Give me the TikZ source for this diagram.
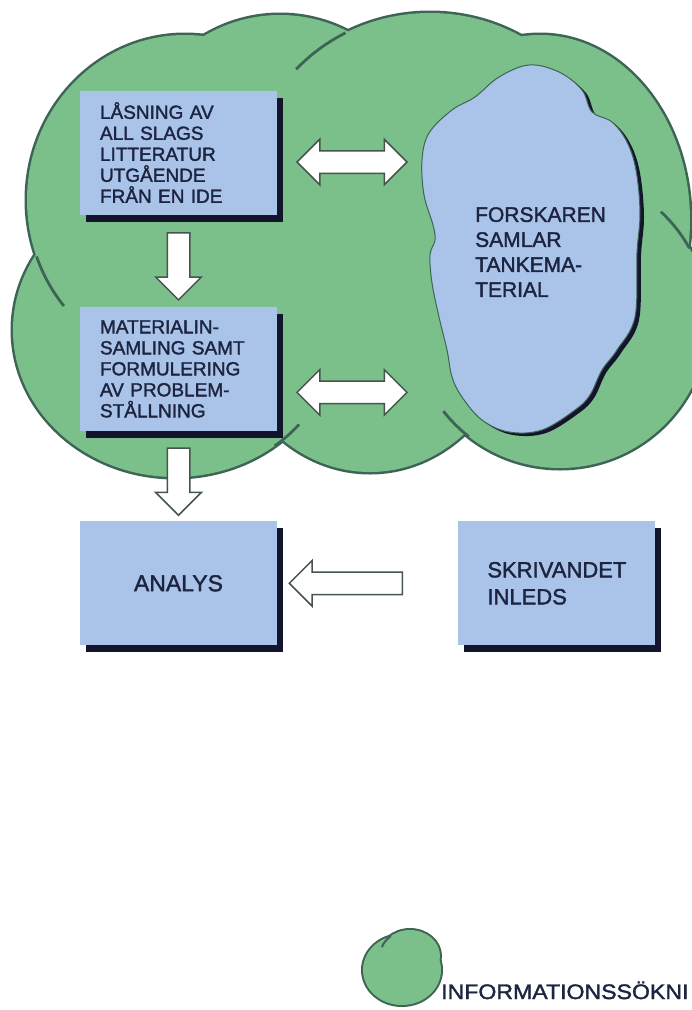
\documentclass[tikz,border=0pt]{standalone}
\usepackage{fontspec}
\setmainfont{Liberation Sans}[FakeBold=1.6]
\newfontfamily\bredfont{Liberation Sans}[FakeBold=1.6, FakeStretch=1.1]
\usepackage{tikz}
\usetikzlibrary{positioning,shadows,shapes.arrows}

\definecolor{molngron}{HTML}{7BC08B}
\definecolor{molnkant}{HTML}{3D6454}
\definecolor{rutbla}{HTML}{AAC3E9}
\definecolor{skugga}{HTML}{14142C}
\definecolor{pilkant}{HTML}{44564C}
\definecolor{textfarg}{HTML}{1C2440}

% lobes of the big cloud: x/y/x radius/y radius
\newcommand{\molnlista}{185/200/158/165, 280/190/160/175, 430/183/180/170, 540/220/150/185, 560/320/148/148, 370/300/150/172, 175/330/162/147}
\newcommand{\blobform}{plot[smooth cycle, tension=0.6] coordinates {(475,97) (499,77) (529,65) (559,72) (582,90) (592,112) (612,122) (627,142) (636,170) (640,213) (637,253) (635,317) (617,350) (602,370) (590,395) (575,410) (542,430) (509,432) (482,420) (462,397) (452,377) (447,350) (439,317) (432,283) (430,255) (435,240) (433,225) (424,195) (422,160) (429,133) (452,110)}}

\begin{document}
\begin{tikzpicture}[x=1pt, y=-1pt, text=textfarg]
	\tikzstyle{block} = [fill=rutbla, minimum width=197pt, minimum height=124pt, drop shadow={shadow xshift=6pt, shadow yshift=-7pt, fill=skugga, opacity=1}]
	\tikzstyle{boxtext} = [font=\fontsize{19}{21}\selectfont, text width=157pt, inner xsep=20pt, align=left]
	\tikzstyle{molnlinje} = [draw=molnkant, line width=2.8pt]
	\tikzstyle{pil} = [draw=pilkant, fill=white, line width=1.5pt, inner xsep=0pt, inner ysep=10.5pt, minimum width=44pt]
	\tikzstyle{nedpil} = [pil, single arrow, single arrow head extend=11.5pt, single arrow head indent=0pt, minimum height=67pt, rotate=-90]
	\tikzstyle{vanpil} = [pil, single arrow, single arrow head extend=11.5pt, single arrow head indent=0pt, minimum height=113pt, rotate=180]
	\tikzstyle{dubbelpil} = [pil, double arrow, double arrow head extend=11.5pt, double arrow head indent=0pt, minimum height=110pt]
	
	\useasboundingbox (0,0) rectangle (692,1010);
	\fill[white] (0,0) rectangle (692,1010);
	\clip (0,0) rectangle (692,1010);
	
	% the green cloud
	\foreach \cx/\cy/\rx/\ry in \molnlista
		\draw[molnlinje, line width=5pt] (\cx,\cy) ellipse [x radius=\rx, y radius=\ry];
	\foreach \cx/\cy/\rx/\ry in \molnlista
		\fill[molngron] (\cx,\cy) ellipse [x radius=\rx, y radius=\ry];
	\draw[molnlinje] (430,183) ++(222:180 and 170) arc[start angle=222, end angle=242, x radius=180, y radius=170];
	\draw[molnlinje] (185,200) ++(160:158 and 165) arc[start angle=160, end angle=140, x radius=158, y radius=165];
	\draw[molnlinje] (175,330) ++(52:162 and 147) arc[start angle=52, end angle=40, x radius=162, y radius=147];
	\draw[molnlinje] (560,320) ++(128:148 and 148) arc[start angle=128, end angle=142, x radius=148, y radius=148];
	\draw[molnlinje] (560,320) ++(-29:148 and 148) arc[start angle=-29, end angle=-47, x radius=148, y radius=148];
	
	% the blue blob
	\fill[skugga, shift={(4,3)}] \blobform;
	\filldraw[fill=rutbla, draw=molnkant, line width=1pt] \blobform;
	\node [minimum width=213pt, minimum height=367pt, inner sep=0pt] (moln) at (533.5,248.5) {};
	\node [anchor=north west, inner sep=0pt, align=left, font=\fontsize{21}{25}\selectfont] (forskaren) at (475,207) {FORSKAREN\\SAMLAR\\TANKEMA-\\TERIAL};
	
	% boxes
	\node [block, boxtext] (lasning) at (178.5,152.5) {LÅSNING AV\\ALL SLAGS\\LITTERATUR\\UTGÅENDE\\FRÅN EN IDE};
	\node [block, boxtext, below = 92pt of lasning] (material) {MATERIALIN-\\SAMLING SAMT\\FORMULERING\\AV PROBLEM-\\STÅLLNING};
	\node [block, font=\fontsize{23}{27}\selectfont, below = 90pt of material] (analys) {ANALYS};
	\node [block, align=left, font=\fontsize{22}{27}\selectfont, right = 181pt of analys] (skriv) {SKRIVANDET\\INLEDS};
	
	\coordinate (d1) at ([yshift=-9.5pt]lasning.east);
	\coordinate (d2) at ([yshift=-23.5pt]material.east);
	
	\path (lasning) -- node[nedpil]{} (material);
	\path (material) -- node[nedpil]{} (analys);
	\path (skriv) -- node[pos=0.59, vanpil]{} (analys);
	\path (d1) -- node[dubbelpil]{} (d1 -| moln.west);
	\path (d2) -- node[dubbelpil]{} (d2 -| moln.west);
	
	% legend
	\foreach \cx/\cy/\rx/\ry in {402/970/39/35, 410/956/30/26}
		\draw[molnlinje, line width=4pt] (\cx,\cy) ellipse [x radius=\rx, y radius=\ry];
	\foreach \cx/\cy/\rx/\ry in {402/970/39/35, 410/956/30/26}
		\fill[molngron] (\cx,\cy) ellipse [x radius=\rx, y radius=\ry];
	\draw[molnlinje, line width=2pt] (410,956) ++(200:30 and 26) arc[start angle=200, end angle=230, x radius=30, y radius=26];
	\node [anchor=base west, inner sep=0pt, font=\bredfont\fontsize{21}{24}\selectfont] (info) at (441,999) {INFORMATIONSSÖKNI};
\end{tikzpicture}
\end{document}
